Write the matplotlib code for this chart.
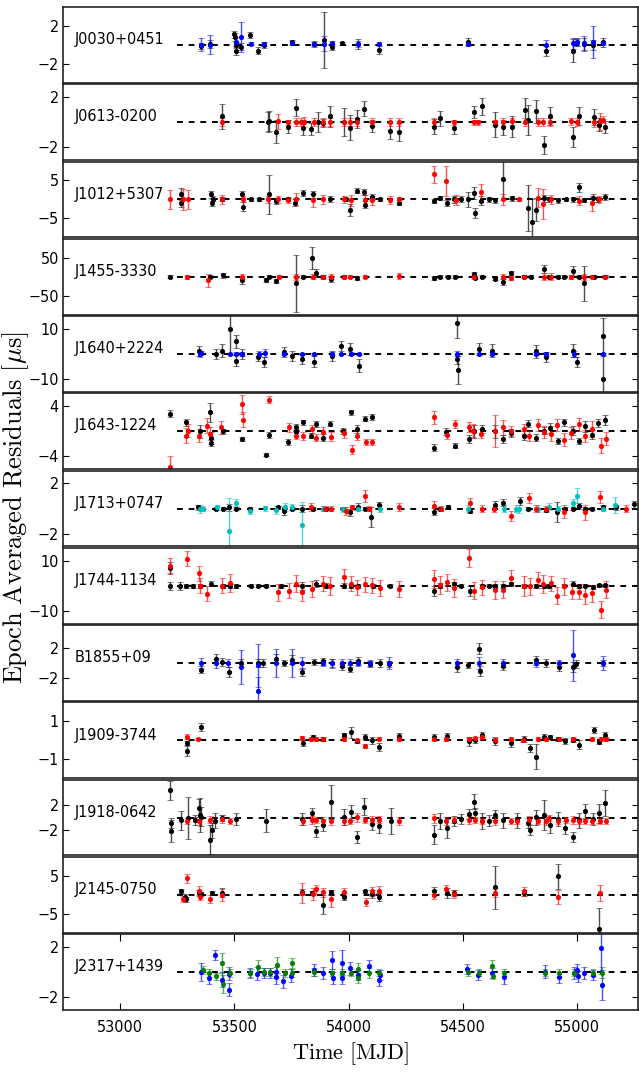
import numpy as np
import matplotlib
matplotlib.use("Agg")
import matplotlib.pyplot as plt
from matplotlib import font_manager

# epoch-averaged residuals per pulsar and backend: (MJD, residual [us], error [us])
j0030_black = [(53355, -0.1, 0.3), (53394, 0.1, 0.4), (53498, 1.1, 0.4), (53502, 0.8, 0.4),
               (53505, -0.6, 0.45), (53508, -0.05, 0.3), (53530, -0.2, 0.35), (53569, 1.05, 0.3),
               (53602, -0.6, 0.4), (53627, 0.0, 0.3), (53752, 0.25, 0.3), (53850, 0.1, 0.3),
               (53892, 0.55, 2.95), (53926, -0.25, 0.3), (53971, 0.15, 0.2), (54042, 0.1, 0.5),
               (54134, -0.5, 0.5), (54520, 0.35, 0.4), (54862, -0.65, 0.5), (54981, -0.6, 1.2),
               (54997, 0.3, 0.4), (55027, 0.1, 0.6), (55069, 0.0, 0.5), (55110, 0.25, 0.5)]
j0030_blue = [(53355, 0.0, 0.7), (53394, 0.0, 1.0), (53506, 0.3, 0.5), (53530, 0.8, 1.6),
              (53573, 0.1, 0.15), (53627, 0.1, 0.25), (53752, 0.15, 0.15), (53850, 0.1, 0.2),
              (53892, 0.1, 0.8), (53926, 0.15, 0.3), (54042, 0.1, 0.3), (54134, 0.1, 0.25),
              (54520, 0.1, 0.2), (54862, 0.0, 0.5), (54981, 0.15, 0.6), (54997, 0.25, 0.4),
              (55027, 0.15, 0.75), (55069, 0.3, 1.7), (55110, 0.15, 0.2)]

j0613_black = [(53447, 0.45, 1.0), (53646, 0.0, 0.8), (53653, 0.1, 0.8), (53680, -0.75, 0.9),
               (53733, -0.35, 0.5), (53767, 1.15, 0.7), (53799, -0.45, 0.6), (53835, -0.55, 0.5),
               (53864, 0.0, 0.8), (53887, -0.05, 0.3), (53919, 0.45, 0.8), (53978, 0.0, 1.1),
               (54007, -0.45, 1.0), (54035, 0.25, 0.7), (54066, 1.05, 0.6), (54101, -0.3, 0.5),
               (54182, -0.7, 0.6), (54219, -0.8, 0.7), (54374, -0.35, 0.6), (54400, 0.3, 0.6),
               (54462, -0.45, 0.5), (54549, 0.8, 0.5), (54581, 1.25, 0.7), (54641, -0.2, 1.0),
               (54673, -0.4, 0.6), (54712, -0.35, 0.8), (54772, 0.95, 1.0), (54786, 0.15, 1.2),
               (54821, 0.85, 0.9), (54855, -1.8, 0.7), (54880, 0.5, 0.7), (54979, -1.15, 0.8),
               (55005, 0.5, 0.7), (55073, 0.4, 0.6), (55095, -0.2, 0.5), (55120, -0.4, 0.5)]
j0613_red = [(53447, 0.0, 0.3), (53690, 0.05, 0.6), (53733, 0.0, 0.2), (53767, 0.0, 0.3),
             (53790, 0.0, 0.3), (53805, 0.0, 0.4), (53850, 0.0, 0.3), (53887, 0.0, 0.3),
             (53919, 0.0, 0.3), (53978, 0.0, 0.3), (54007, 0.0, 0.3), (54035, 0.0, 0.3),
             (54101, 0.0, 0.3), (54182, 0.0, 0.3), (54219, 0.0, 0.3), (54374, 0.0, 0.3),
             (54462, 0.0, 0.2), (54549, 0.0, 0.2), (54565, 0.0, 0.2), (54641, 0.0, 0.2),
             (54673, 0.0, 0.3), (54712, 0.05, 0.3), (54772, 0.0, 0.3), (54826, 0.0, 0.3),
             (54848, 0.0, 0.3), (54880, 0.0, 0.3), (54971, 0.05, 0.3), (55000, 0.0, 0.3),
             (55073, 0.0, 0.4), (55099, 0.05, 0.7), (55110, 0.2, 0.3)]

j1012_black = [(53265, 1.45, 1.5), (53268, -0.85, 1.2), (53399, 1.3, 1.0), (53403, -0.85, 1.0),
               (53406, 0.2, 0.6), (53447, 0.2, 0.5), (53534, 1.3, 1.0), (53536, -1.9, 1.2),
               (53573, 0.0, 0.5), (53607, 0.0, 0.5), (53653, 1.3, 5.2), (53682, -0.4, 0.8),
               (53733, 0.0, 0.5), (53763, -0.85, 1.0), (53799, 1.7, 0.8), (53843, 1.3, 0.8),
               (53916, 0.2, 0.8), (53988, 0.0, 0.5), (54007, -2.8, 1.5), (54035, 2.3, 0.7),
               (54066, 1.9, 0.8), (54069, -1.4, 1.0), (54101, 0.7, 0.8), (54138, 0.0, 0.5),
               (54221, -0.85, 0.7), (54374, -0.4, 0.6), (54399, 0.4, 0.6), (54430, -0.85, 0.8),
               (54462, 0.0, 1.0), (54491, 0.2, 0.8), (54523, 0.0, 2.0), (54549, 1.7, 1.5),
               (54553, -3.6, 1.3), (54578, -0.4, 1.2), (54612, 0.0, 0.7), (54641, -0.25, 0.7),
               (54673, 5.3, 5.5), (54714, 0.25, 0.6), (54786, -2.3, 6.0), (54801, -5.9, 6.0),
               (54821, -2.7, 3.0), (54855, 0.25, 1.0), (54877, 0.0, 0.6), (54913, -0.25, 0.6),
               (54949, 0.0, 0.5), (54979, 0.0, 0.6), (55005, 3.2, 1.2), (55029, -0.25, 0.5),
               (55069, 0.4, 1.0), (55092, 0.0, 0.6), (55120, 0.6, 0.8)]
j1012_red = [(53217, 0.0, 2.6), (53275, 0.0, 2.8), (53297, 0.0, 2.6), (53447, 0.0, 1.2),
             (53537, 0.0, 0.8), (53646, 0.0, 1.0), (53690, 0.0, 1.0), (53733, -0.25, 0.8),
             (53770, 0.0, 1.6), (53843, -0.25, 1.8), (53887, 0.0, 1.2), (53981, 0.0, 1.0),
             (54010, -0.25, 1.5), (54069, -0.25, 1.5), (54101, -0.25, 1.2), (54182, -0.2, 1.0),
             (54221, 0.0, 0.6), (54374, 6.6, 2.2), (54425, 4.8, 3.9), (54469, -0.25, 1.3),
             (54578, 1.9, 2.2), (54673, 0.0, 1.5), (54746, 0.0, 0.5), (54826, 0.4, 2.5),
             (54850, -1.3, 4.0), (54884, 0.0, 1.2), (55005, -0.4, 1.2), (55066, -1.0, 2.0),
             (55095, 0.0, 1.0)]

j1455_black = [(53219, 0, 4), (53394, 0, 4), (53452, 3.5, 6), (53534, -9, 10), (53636, -9, 6),
               (53653, 0, 4), (53680, -11, 6), (53767, -18, 76), (53799, 0, 4), (53840, 49, 30),
               (53857, 10, 10), (53887, 0, 4), (53923, -5, 8), (53981, 0, 4), (54035, -3, 5),
               (54374, -3, 6), (54399, 0, 4), (54433, 0, 4), (54465, 0, 4), (54549, 6, 6),
               (54553, -3, 4), (54581, 0, 4), (54641, -5, 5), (54676, -14, 8), (54709, 9, 5),
               (54767, 0, 4), (54797, 0, 4), (54855, 21, 10), (54877, 0, 4), (54913, 0, 4),
               (54942, 0, 4), (54979, 15, 12), (55005, 0, 4), (55029, -18, 45), (55073, 0, 4),
               (55120, 0, 4)]
j1455_red = [(53294, 0, 5), (53384, -9, 17), (53534, 0, 6), (53694, 0, 4), (53767, 0, 8),
             (53843, 0, 6), (53887, 0, 5), (53923, 0, 6), (53981, 0, 4), (54007, 0, 4),
             (54071, 0, 4), (54219, 2, 7), (54549, 0, 5), (54673, 0, 7), (54709, -3, 5),
             (54767, 0, 4), (54855, 0, 10), (54884, 0, 10), (54971, 0, 5), (55029, 0, 8),
             (55066, 0, 4), (55120, 0, 4)]

j1640_black = [(53345, 1.3, 2.0), (53420, 0.0, 2.0), (53447, 1.3, 2.5), (53479, 9.8, 9.8),
               (53505, 5.0, 2.5), (53507, -2.6, 2.0), (53534, 0.0, 2.0), (53602, -1.3, 1.5),
               (53627, -3.3, 2.0), (53716, 0.7, 2.0), (53752, -0.7, 2.0), (53796, -2.0, 2.0),
               (53850, -3.0, 2.0), (53927, -0.7, 2.0), (53967, 3.0, 2.0), (54007, 2.0, 2.5),
               (54044, -4.6, 2.5), (54472, 12.4, 6.0), (54474, -2.0, 2.0), (54476, -6.3, 5.5),
               (54571, 2.0, 2.5), (54626, 1.3, 2.5), (54818, 1.0, 2.5), (54862, -1.3, 2.0),
               (54979, 1.3, 2.5), (55000, -3.3, 2.0), (55110, 7.2, 7.0), (55112, -9.8, 9.0)]
j1640_blue = [(53348, 0.0, 1.2), (53352, 0.3, 0.8), (53479, 0.0, 0.5), (53505, 0.0, 0.6),
              (53534, 0.0, 0.8), (53607, 0.0, 1.0), (53632, 0.3, 1.5), (53716, 0.0, 0.5),
              (53796, 0.0, 0.5), (53850, 0.0, 0.5), (53927, 0.0, 0.6), (53967, 0.0, 0.5),
              (54010, 0.0, 0.6), (54044, 0.0, 0.5), (54472, 0.0, 1.0), (54571, 0.0, 0.5),
              (54626, 0.0, 0.6), (54818, 0.0, 0.6), (54862, 0.0, 0.8), (54986, 0.0, 1.3),
              (55110, 0.0, 0.5)]

j1643_black = [(53219, 2.8, 0.6), (53289, 1.4, 0.6), (53348, 0.0, 1.0), (53394, 3.0, 1.5),
               (53396, -1.1, 1.0), (53398, -1.8, 0.6), (53450, 0.0, 0.4), (53534, -1.2, 0.3),
               (53636, -3.7, 0.3), (53650, -0.6, 0.5), (53733, -1.7, 0.5), (53767, 0.6, 0.6),
               (53770, -0.1, 0.5), (53799, 1.4, 0.4), (53835, -0.7, 0.4), (53857, 1.1, 0.5),
               (53887, -1.0, 0.6), (53919, 1.2, 0.4), (53974, 0.0, 0.5), (54010, 3.0, 0.4),
               (54035, 0.35, 0.6), (54069, 2.0, 0.4), (54102, 2.2, 0.5), (54374, -2.6, 0.5),
               (54425, -0.05, 0.6), (54465, -2.3, 0.4), (54527, -1.2, 0.6), (54549, 0.0, 1.0),
               (54581, 0.35, 0.7), (54641, 0.0, 1.0), (54673, -1.2, 0.6), (54709, -0.3, 0.6),
               (54767, -0.7, 0.7), (54786, 1.2, 0.6), (54818, -1.0, 0.5), (54852, 0.1, 0.6),
               (54881, 0.45, 0.8), (54913, -1.6, 0.5), (54942, 1.4, 0.5), (54979, 0.1, 0.7),
               (55005, -1.6, 0.5), (55032, 0.75, 0.8), (55066, -0.55, 0.7), (55092, 1.3, 0.7),
               (55120, 1.8, 0.8)]
j1643_red = [(53219, -5.6, 1.6), (53289, -0.7, 1.2), (53297, 0.1, 1.0), (53343, -0.7, 1.0),
             (53380, 0.9, 1.2), (53394, -0.4, 1.0), (53442, 0.6, 1.0), (53534, 4.3, 1.5),
             (53536, 1.8, 1.2), (53650, 5.0, 0.6), (53738, 0.6, 0.7), (53767, -0.7, 0.6),
             (53799, -0.8, 0.6), (53840, 0.35, 0.6), (53857, -1.0, 0.6), (53889, -0.15, 0.8),
             (53923, -0.9, 0.7), (53981, -0.3, 0.7), (54013, -2.9, 0.7), (54035, -0.7, 0.7),
             (54076, -1.7, 0.5), (54102, -1.7, 0.5), (54374, 2.2, 1.0), (54430, -0.6, 0.7),
             (54465, 1.1, 0.6), (54527, 0.6, 0.8), (54545, 0.1, 1.0), (54578, -0.4, 0.7),
             (54641, 0.0, 2.5), (54673, 0.6, 1.2), (54709, 0.0, 0.8), (54767, 0.35, 0.8),
             (54789, -0.7, 0.8), (54826, 1.0, 1.0), (54855, -0.15, 1.0), (54884, -0.4, 1.2),
             (54910, 1.0, 1.0), (54942, -1.35, 1.0), (54971, -0.3, 1.0), (55005, 1.1, 1.0),
             (55032, -0.75, 1.0), (55066, 0.35, 1.2), (55102, -2.3, 1.2), (55124, -1.2, 1.0)]

j1713_black = [(53340, 0.08, 0.2), (53420, 0.0, 0.15), (53450, 0.0, 0.15), (53476, 0.08, 0.3),
               (53508, 0.0, 0.15), (53566, 0.0, 0.15), (53690, 0.08, 0.15), (53716, -0.18, 0.3),
               (53752, 0.0, 0.15), (53796, 0.0, 0.3), (53843, 0.0, 0.15), (53901, 0.0, 0.15),
               (53974, 0.0, 0.15), (54007, -0.3, 0.3), (54039, 0.15, 0.3), (54069, 0.0, 0.15),
               (54098, -0.65, 0.8), (54134, 0.25, 0.3), (54374, -0.25, 0.3), (54399, 0.0, 0.15),
               (54433, 0.12, 0.15), (54530, -0.18, 0.2), (54641, 0.26, 0.3), (54673, 0.46, 0.3),
               (54749, 0.6, 0.3), (54786, 0.0, 0.15), (54862, -0.1, 0.15), (54910, -0.3, 0.8),
               (54946, 0.0, 0.15), (54979, 0.0, 0.15), (55005, 0.2, 0.2), (55032, 0.0, 0.15),
               (55066, 0.0, 0.15), (55110, 0.15, 0.15), (55168, 0.08, 0.2), (55248, 0.33, 0.3)]
j1713_cyan = [(53348, -0.05, 0.3), (53362, 0.0, 0.2), (53423, 0.08, 0.2), (53476, -1.8, 2.6),
              (53505, 0.46, 0.3), (53569, -0.23, 0.2), (53632, 0.03, 0.2), (53682, -0.1, 0.3),
              (53719, 0.13, 0.3), (53752, 0.13, 0.2), (53796, -1.3, 1.8), (53887, 0.0, 0.2),
              (53974, -0.05, 0.2), (54042, 0.0, 0.2), (54137, 0.0, 0.3), (54520, 0.0, 0.3),
              (54680, 0.0, 0.3), (54731, 0.0, 0.3), (54746, -0.05, 0.3), (54826, 0.0, 0.3),
              (54877, 0.15, 0.3), (54917, 0.0, 0.2), (54979, 0.46, 0.3), (55000, 1.0, 0.6),
              (55110, 0.0, 0.2), (55165, 0.28, 0.6)]
j1713_red = [(53835, 0.13, 0.3), (53894, 0.0, 0.2), (53923, 0.0, 0.2), (53988, -0.18, 0.3),
             (54015, 0.08, 0.2), (54073, 1.0, 0.5), (54090, 0.0, 0.2), (54219, 0.13, 0.3),
             (54374, 0.2, 0.4), (54403, 0.0, 0.2), (54530, 0.4, 0.4), (54581, 0.0, 0.3),
             (54636, -0.05, 0.2), (54709, -0.57, 0.4), (54789, 0.85, 0.4), (54821, 0.0, 0.3),
             (54862, 0.0, 0.2), (54942, -0.25, 0.5), (55032, -0.3, 0.6), (55099, 0.9, 0.5),
             (55212, 0.0, 0.3)]

j1744_black = [(53217, 7.0, 2.5), (53219, 0.0, 1.5), (53260, 0.0, 1.5), (53289, 0.0, 0.8),
               (53318, 0.0, 0.8), (53348, 0.0, 0.8), (53399, 0.9, 1.0), (53450, 0.0, 0.8),
               (53479, 0.0, 0.8), (53508, 0.0, 0.8), (53573, 0.0, 0.6), (53602, 0.0, 0.6),
               (53639, 0.0, 0.6), (53704, 0.0, 0.8), (53796, 0.0, 1.5), (53857, 0.9, 1.5),
               (53901, 0.0, 1.0), (53981, 0.0, 1.0), (54010, 0.0, 0.8), (54039, 0.0, 0.8),
               (54105, 0.0, 0.8), (54182, 0.0, 0.6), (54374, -2.0, 2.0), (54399, 0.0, 1.0),
               (54462, 0.6, 1.0), (54491, 0.0, 0.6), (54530, -2.0, 2.0), (54581, 0.0, 0.8),
               (54615, 0.0, 0.6), (54641, 0.0, 0.8), (54676, 0.0, 0.8), (54709, 0.6, 0.8),
               (54767, 0.0, 0.8), (54818, 0.0, 0.8), (54855, 0.0, 0.8), (54877, 0.0, 0.8),
               (54942, 0.0, 0.6), (54981, 0.9, 1.0), (55005, 0.0, 0.8), (55032, 0.0, 0.6),
               (55069, -0.6, 0.8), (55095, 0.25, 0.6), (55120, 0.25, 0.6)]
j1744_red = [(53217, 8.0, 3.0), (53292, 10.7, 3.0), (53343, 4.9, 3.0), (53348, 0.0, 3.0),
             (53380, -3.2, 3.0), (53447, 0.0, 3.0), (53479, 1.0, 3.5), (53690, -2.6, 3.5),
             (53738, -2.0, 3.0), (53767, 0.9, 3.5), (53796, -2.6, 3.5), (53840, -1.3, 3.0),
             (53889, 0.9, 3.0), (53919, 0.0, 3.5), (53981, 3.5, 3.0), (54010, 0.9, 3.0),
             (54035, -0.6, 3.0), (54073, 0.6, 3.0), (54102, 0.25, 3.0), (54137, -0.9, 3.0),
             (54219, -1.3, 3.0), (54374, 2.6, 3.5), (54401, 0.25, 3.5), (54430, 1.3, 3.5),
             (54462, -1.0, 3.5), (54527, 11.0, 3.5), (54549, -1.9, 3.5), (54581, -0.6, 3.0),
             (54641, -1.7, 3.5), (54676, -1.5, 3.5), (54709, 3.2, 3.0), (54767, 0.0, 4.0),
             (54792, -0.25, 3.5), (54826, 2.3, 3.0), (54850, 0.6, 3.5), (54884, 1.0, 3.0),
             (54910, -3.9, 3.5), (54942, -0.25, 3.5), (54976, -2.3, 3.0), (55005, -2.3, 3.0),
             (55032, -3.6, 3.5), (55066, -3.0, 3.5), (55102, -9.4, 3.5), (55124, -1.5, 3.5)]

b1855_black = [(53355, -0.87, 0.5), (53420, 0.56, 0.6), (53447, 0.13, 0.5), (53476, -1.2, 0.7),
               (53530, 0.0, 0.5), (53603, 0.0, 0.5), (53624, 0.0, 0.5), (53682, 0.56, 0.6),
               (53716, 0.0, 0.4), (53752, 0.43, 0.6), (53796, -1.2, 0.5), (53850, 0.13, 0.4),
               (53889, 0.22, 0.5), (53927, 0.04, 0.5), (53971, -0.43, 0.5), (54007, -0.74, 0.5),
               (54042, 0.26, 0.5), (54093, -0.17, 0.4), (54137, 0.0, 0.5), (54178, -0.1, 0.4),
               (54472, -0.52, 0.6), (54520, -0.3, 0.4), (54571, 1.9, 0.7), (54573, -1.05, 0.6),
               (54673, -0.43, 0.5), (54818, 0.35, 0.6), (54862, 0.04, 0.5), (54920, -0.52, 0.5),
               (54981, -0.52, 0.6), (54993, -0.1, 0.5), (55110, 0.0, 0.4)]
b1855_blue = [(53355, 0.0, 0.7), (53420, 0.0, 0.6), (53471, 0.0, 0.5), (53530, -0.5, 2.2),
              (53603, -3.65, 1.8), (53605, -0.3, 2.8), (53682, 0.0, 1.8), (53752, 0.0, 1.8),
              (53796, 0.0, 0.8), (53889, 0.0, 0.4), (53927, 0.0, 0.6), (53971, 0.0, 0.5),
              (54007, 0.0, 0.5), (54042, 0.0, 0.4), (54093, 0.0, 0.4), (54178, 0.0, 0.8),
              (54472, 0.0, 0.5), (54571, 0.0, 0.8), (54673, 0.0, 0.5), (54818, 0.0, 0.5),
              (54920, 0.0, 0.4), (54981, 1.0, 3.4), (55110, 0.0, 0.9)]

j1909_black = [(53292, -0.14, 0.1), (53294, -0.57, 0.25), (53355, 0.7, 0.2), (53799, -0.14, 0.15),
               (53843, 0.17, 0.1), (53889, 0.07, 0.1), (53981, 0.3, 0.1), (54010, 0.43, 0.3),
               (54035, -0.05, 0.1), (54069, 0.2, 0.15), (54102, 0.0, 0.2), (54134, -0.35, 0.2),
               (54219, 0.24, 0.15), (54374, 0.16, 0.15), (54430, 0.24, 0.15), (54527, -0.05, 0.25),
               (54553, 0.0, 0.15), (54581, 0.3, 0.15), (54641, -0.05, 0.2), (54709, -0.14, 0.2),
               (54767, 0.07, 0.15), (54794, -0.4, 0.2), (54818, -0.87, 0.65), (54855, 0.2, 0.15),
               (54881, 0.16, 0.1), (54913, 0.09, 0.1), (54945, -0.05, 0.15), (54979, 0.03, 0.1),
               (55005, -0.23, 0.25), (55073, 0.56, 0.15), (55095, -0.1, 0.1), (55120, 0.3, 0.15)]
j1909_red = [(53292, 0.2, 0.15), (53340, 0.09, 0.05), (53796, 0.12, 0.1), (53835, 0.09, 0.1),
             (53857, 0.07, 0.08), (53889, 0.09, 0.1), (53981, 0.07, 0.08), (54035, 0.0, 0.08),
             (54069, -0.28, 0.1), (54134, 0.09, 0.08), (54219, 0.07, 0.1), (54374, 0.07, 0.08),
             (54425, 0.07, 0.08), (54527, 0.07, 0.1), (54553, 0.12, 0.08), (54581, 0.16, 0.08),
             (54641, 0.03, 0.08), (54709, 0.07, 0.1), (54760, 0.0, 0.08), (54826, 0.07, 0.1),
             (54862, 0.07, 0.08), (54920, 0.07, 0.08), (54979, 0.07, 0.08), (55066, 0.07, 0.08),
             (55102, 0.07, 0.08), (55124, 0.07, 0.08)]

j1918_black = [(53219, 4.3, 1.5), (53221, -0.9, 0.8), (53223, -2.1, 1.8), (53265, -0.4, 1.5),
               (53297, -0.1, 3.3), (53326, -0.4, 0.8), (53343, 1.5, 1.4), (53348, 0.4, 2.7),
               (53355, 0.15, 1.5), (53394, -3.5, 2.3), (53403, -2.0, 1.2), (53413, -0.5, 1.2),
               (53447, -0.1, 0.5), (53508, -0.25, 1.0), (53639, -0.5, 1.8), (53796, -0.2, 1.0),
               (53840, 0.7, 0.8), (53857, -2.2, 0.8), (53887, -1.2, 1.0), (53923, 2.5, 2.7),
               (53978, 0.05, 1.3), (54010, 0.85, 1.2), (54035, -3.1, 1.0), (54066, 1.75, 1.3),
               (54102, -1.0, 1.0), (54134, -1.3, 1.2), (54185, -0.5, 2.1), (54374, -2.7, 1.5),
               (54401, -0.5, 1.3), (54430, -1.7, 1.5), (54462, -0.5, 0.8), (54491, -0.25, 0.8),
               (54527, 0.55, 0.8), (54549, 2.5, 1.2), (54553, 0.7, 0.8), (54581, -0.5, 1.3),
               (54615, -0.5, 0.9), (54641, 0.45, 0.8), (54673, -0.4, 1.2), (54738, -0.4, 1.2),
               (54786, -0.9, 0.8), (54794, -2.0, 0.8), (54821, 0.05, 1.2), (54855, 0.45, 2.4),
               (54881, -1.2, 1.3), (54913, -0.25, 1.1), (54945, -1.6, 1.0), (54979, -3.1, 0.8),
               (55005, -0.4, 1.2), (55032, 1.0, 1.2), (55069, -0.2, 1.0), (55095, 0.7, 1.5),
               (55120, 2.3, 2.1)]
j1918_red = [(53292, -0.5, 0.5), (53343, -0.5, 0.6), (53391, -0.3, 0.6), (53447, -0.2, 0.6),
             (53479, -0.5, 0.5), (53799, -0.5, 0.6), (53840, -0.4, 0.6), (53857, -0.4, 0.5),
             (53889, -0.5, 0.6), (53923, -0.5, 0.6), (53981, -0.5, 0.6), (54007, -0.5, 0.5),
             (54035, 0.05, 0.7), (54069, -0.4, 0.5), (54102, -0.4, 0.6), (54134, -0.3, 0.6),
             (54219, -0.5, 0.6), (54374, -0.1, 0.7), (54425, -0.5, 0.6), (54462, -0.4, 0.5),
             (54527, -0.4, 0.6), (54553, -0.4, 0.5), (54581, -0.5, 0.5), (54641, -0.5, 0.6),
             (54709, -0.5, 0.5), (54738, -0.5, 0.5), (54789, -0.4, 0.6), (54826, -0.5, 0.5),
             (54862, -0.5, 0.6), (54877, -0.1, 0.5), (54913, -0.5, 0.5), (54949, -0.4, 0.5),
             (54979, -0.4, 0.6), (55005, -0.5, 0.5), (55032, -0.5, 0.5), (55066, -0.5, 0.5),
             (55099, -0.5, 0.5), (55124, -0.5, 0.5)]

j2145_black = [(53268, 1.05, 0.6), (53282, -0.45, 0.6), (53289, -1.15, 0.6), (53343, 0.45, 0.8),
               (53355, 0.25, 0.5), (53403, 0.45, 0.5), (53447, 0.6, 1.2), (53796, 0.7, 0.8),
               (53840, 0.45, 0.5), (53887, -2.65, 2.5), (53923, 0.7, 0.5), (53981, -0.45, 1.0),
               (54069, 0.9, 0.5), (54102, 0.25, 1.0), (54134, -0.6, 1.0), (54374, 1.15, 1.0),
               (54430, 0.6, 1.3), (54462, 0.45, 0.8), (54641, 1.95, 5.6), (54767, 0.45, 0.8),
               (54913, 4.9, 3.3), (55095, -9.1, 5.7)]
j2145_red = [(53275, -1.15, 0.8), (53292, 4.4, 1.2), (53343, 1.15, 1.2), (53348, -0.45, 1.0),
             (53391, -1.05, 1.1), (53447, 0.0, 1.5), (53796, 0.45, 2.6), (53843, 0.2, 1.5),
             (53857, 1.5, 1.2), (53889, 0.7, 1.2), (53923, -1.0, 2.2), (53981, 0.7, 1.0),
             (54076, -1.8, 1.1), (54102, 0.9, 1.2), (54134, 1.15, 1.2), (54374, 0.0, 1.2),
             (54425, 1.5, 1.2), (54462, 0.25, 1.1), (54641, 0.6, 1.1), (54767, 0.9, 1.1),
             (54913, -0.6, 1.8), (55099, 0.6, 2.1)]

j2317_blue = [(53355, 0.0, 0.7), (53390, -0.47, 0.5), (53417, 1.36, 0.4), (53447, -0.6, 0.6),
              (53476, -1.38, 0.5), (53478, -0.13, 0.5), (53568, -0.08, 0.4), (53600, -0.13, 0.5),
              (53630, -0.08, 0.4), (53657, -0.08, 0.4), (53680, 0.0, 0.4), (53682, -0.4, 0.5),
              (53714, -0.73, 0.5), (53746, -0.28, 0.5), (53848, 0.18, 0.5), (53889, -0.08, 0.5),
              (53928, 0.97, 0.7), (53930, -0.47, 0.5), (53969, 0.75, 1.0), (53971, -0.47, 0.5),
              (54004, 0.3, 0.5), (54040, -0.2, 0.4), (54090, 0.5, 0.5), (54133, -0.6, 0.5),
              (54135, -0.2, 0.4), (54517, 0.25, 0.4), (54565, -0.26, 0.4), (54627, -0.08, 0.4),
              (54677, -0.42, 0.5), (54859, 0.05, 0.5), (54921, -0.42, 0.4), (54983, -0.08, 0.5),
              (54998, 0.18, 0.5), (55001, -0.34, 0.4), (55028, -0.08, 0.5), (55067, -0.2, 0.4),
              (55104, 1.88, 2.0), (55106, -1.0, 1.2)]
j2317_green = [(53364, 0.18, 0.3), (53390, -0.08, 0.3), (53420, -0.34, 0.3), (53447, 0.7, 0.8),
               (53449, -0.94, 0.7), (53479, -0.08, 0.3), (53568, -0.08, 0.3), (53604, 0.44, 0.5),
               (53630, 0.0, 0.3), (53657, 0.0, 0.3), (53684, 0.57, 0.6), (53720, -0.08, 0.3),
               (53750, 0.7, 0.4), (53752, -0.05, 0.3), (53848, 0.0, 0.3), (53928, -0.03, 0.3),
               (53969, -0.03, 0.3), (54008, -0.03, 0.3), (54040, 0.24, 0.5), (54042, -0.47, 0.4),
               (54090, -0.08, 0.4), (54133, -0.03, 0.3), (54521, 0.0, 0.3), (54570, -0.03, 0.3),
               (54627, 0.5, 0.5), (54633, -0.28, 0.3), (54677, -0.03, 0.3), (54859, -0.03, 0.3),
               (54921, -0.08, 0.3), (54983, -0.03, 0.3), (55069, -0.03, 0.3), (55108, -0.03, 0.4)]

pulsars = ["J0030+0451", "J0613-0200", "J1012+5307", "J1455-3330", "J1640+2224",
           "J1643-1224", "J1713+0747", "J1744-1134", "B1855+09", "J1909-3744",
           "J1918-0642", "J2145-0750", "J2317+1439"]
y_limits = [4, 3, 10, 100, 15, 6, 3, 15, 5, 2, 6, 10, 3]
y_ticks = [2, 2, 5, 50, 10, 4, 2, 10, 2, 1, 2, 5, 2]
series = [
    [(j0030_black, "k"), (j0030_blue, "b")],
    [(j0613_black, "k"), (j0613_red, "r")],
    [(j1012_black, "k"), (j1012_red, "r")],
    [(j1455_black, "k"), (j1455_red, "r")],
    [(j1640_black, "k"), (j1640_blue, "b")],
    [(j1643_black, "k"), (j1643_red, "r")],
    [(j1713_black, "k"), (j1713_cyan, "c"), (j1713_red, "r")],
    [(j1744_black, "k"), (j1744_red, "r")],
    [(b1855_black, "k"), (b1855_blue, "b")],
    [(j1909_black, "k"), (j1909_red, "r")],
    [(j1918_black, "k"), (j1918_red, "r")],
    [(j2145_black, "k"), (j2145_red, "r")],
    [(j2317_blue, "b"), (j2317_green, "g")],
]
x_ticks = [53000, 53500, 54000, 54500, 55000]

# tick and pulsar labels look best in a condensed sans; fall back to plain DejaVu
fonts = font_manager.fontManager.ttflist
if any(f.name == "DejaVu Sans" and f.stretch == "condensed" for f in fonts):
    sans = dict(family="DejaVu Sans", stretch="condensed")
    name_size, tick_size = 11.5, 11.5
else:
    sans = dict(family="DejaVu Sans")
    name_size, tick_size = 10.5, 10
plt.rcParams["font.family"] = ["DejaVu Sans"]
plt.rcParams["font.stretch"] = sans.get("stretch", "normal")
plt.rcParams["mathtext.fontset"] = "cm"

fig, axes = plt.subplots(len(pulsars), 1, figsize=(6.39, 10.72), dpi=100, sharex=True)
fig.subplots_adjust(left=0.0986, right=0.9984, top=0.9935, bottom=0.0578, hspace=0.02)

for ax, name, lim, tick, groups in zip(axes, pulsars, y_limits, y_ticks, series):
    ax.hlines(0, 53250, 55300, colors="k", linestyles=(0, (3, 3)), lw=1.4, zorder=1)
    for data, color in groups:
        t, r, e = np.array(data, dtype=float).T
        _, caps, bars = ax.errorbar(t, r, yerr=e, fmt="o", color=color, ms=3.2, mew=0.5,
                                    elinewidth=1.0, capsize=2.5, capthick=1.0, zorder=2)
        for c in caps:
            c.set_alpha(0.7)
        for b in bars:
            b.set_alpha(0.7)
    ax.set_ylim(-lim, lim)
    ax.set_yticks([-tick, tick])
    ax.text(0.02, 0.57, name, transform=ax.transAxes, va="center", fontsize=name_size, **sans)
    ax.tick_params(axis="y", direction="in", left=True, right=True, length=4,
                   labelsize=tick_size, pad=3)
    ax.tick_params(axis="x", bottom=False, top=False, labelbottom=False)
    for s in ax.spines.values():
        s.set_linewidth(1.2)
        s.set_color("#222222")

last = axes[-1]
last.set_xlim(52750, 55265)
last.set_xticks(x_ticks, labels=[str(v) for v in x_ticks])
last.tick_params(axis="x", direction="in", bottom=True, top=True, labelbottom=True,
                 length=5, labelsize=tick_size, pad=7)
last.set_xlabel(r"$\mathrm{Time\ [MJD]}$", fontsize=16, labelpad=4)

fig.text(0.024, 0.526, r"$\mathrm{Epoch\ Averaged\ Residuals}\ [\mu\mathrm{s}]$",
         rotation=90, ha="center", va="center", fontsize=19)

fig.savefig("out.png", dpi=100)
